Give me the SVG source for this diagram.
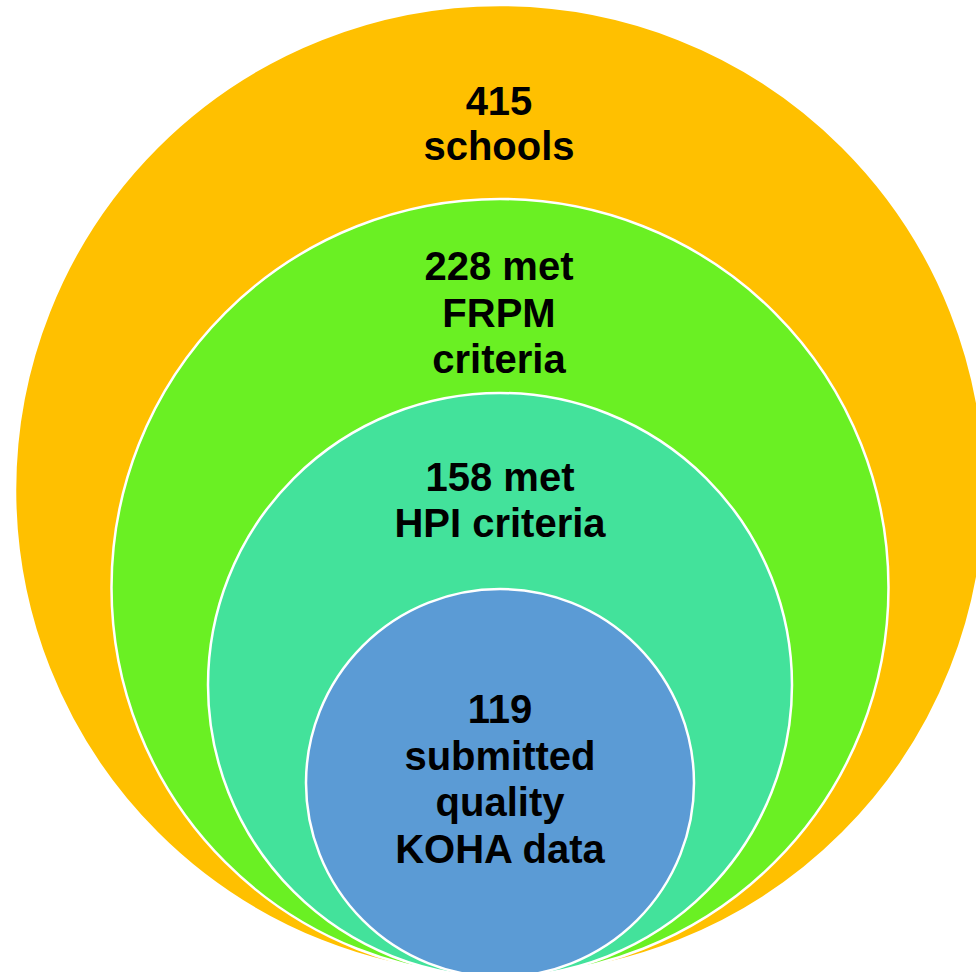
<svg xmlns="http://www.w3.org/2000/svg" width="976" height="972" viewBox="0 0 976 972">
<style>
.c{stroke:#ffffff;stroke-width:2.5}
.t{font-family:"Liberation Sans",Arial,sans-serif;font-weight:bold;font-size:40px;fill:#000000;text-anchor:middle}
</style>
<rect width="976" height="972" fill="#ffffff"/>
<g id="schools">
<circle class="c" cx="500" cy="490" r="485" fill="#FFC000"/>
<text class="t" x="499" y="115">415</text>
<text class="t" x="499" y="160">schools</text>
</g>
<g id="frpm">
<circle class="c" cx="500" cy="587.5" r="388.5" fill="#6AF023"/>
<text class="t" x="499" y="280">228 met</text>
<text class="t" x="499" y="327">FRPM</text>
<text class="t" x="499" y="373">criteria</text>
</g>
<g id="hpi">
<circle class="c" cx="500" cy="685" r="292" fill="#43E29B"/>
<text class="t" x="500" y="491">158 met</text>
<text class="t" x="500" y="537">HPI criteria</text>
</g>
<g id="koha">
<circle class="c" cx="500" cy="783" r="194" fill="#5B9BD5"/>
<text class="t" x="500" y="723">119</text>
<text class="t" x="500" y="770">submitted</text>
<text class="t" x="500" y="816">quality</text>
<text class="t" x="500" y="863">KOHA data</text>
</g>
<g id="connectors"/>
</svg>
